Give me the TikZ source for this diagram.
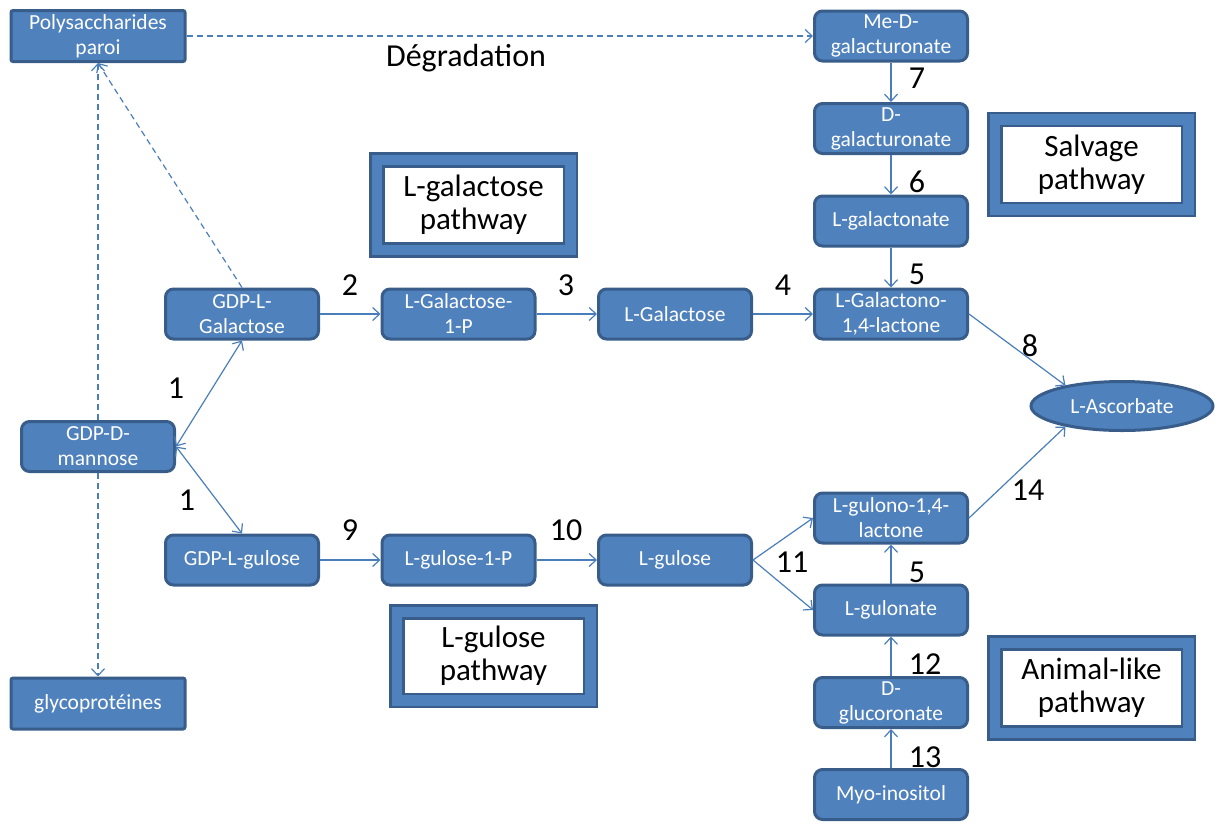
\documentclass[tikz,border=0pt]{standalone}
\usepackage{fontspec}
\setmainfont{Carlito}
\usetikzlibrary{arrows.meta,shapes.geometric}
\definecolor{boxfill}{HTML}{4F81BD}
\definecolor{boxedge}{HTML}{385D8A}
\definecolor{flowcol}{HTML}{4A7EBB}

\begin{document}
\begin{tikzpicture}[x=1pt,y=-1pt,
    >={Straight Barb[length=7pt,width=13pt]},
    metab/.style={draw=boxedge,fill=boxfill,line width=3pt,rounded corners=8pt,text=white,
        minimum width=153pt,minimum height=50pt,inner sep=0.5pt,align=center,
        font=\fontsize{21.5}{25}\selectfont},
    wall/.style={metab,rounded corners=2pt,minimum width=174pt,minimum height=51pt},
    pathbox/.style={draw=boxedge,line width=2.5pt,double=boxfill,double distance=10.5pt,
        fill=white,inner sep=0pt,align=center,minimum width=193.5pt,minimum height=90pt,
        font=\fontsize{31}{33}\selectfont},
    stepnum/.style={inner sep=0pt,font=\fontsize{32}{36}\selectfont},
    flow/.style={->,flowcol,line width=1.2pt},
    wflow/.style={flow,dash pattern=on 6pt off 4pt}]
  \useasboundingbox (0,0) rectangle (1215,823);

  % cell wall side
  \node[wall] (poly) at (98,36) {Polysaccharides\\paroi};
  \node[wall] (glyco) at (98,703.5) {glycoprotéines};
  \node[metab] (mannose) at (98,446.5) {GDP-D-\\mannose};

  % L-galactose route
  \node[metab] (galgdp) at (242,314) {GDP-L-\\Galactose};
  \node[metab] (galonep) at (458.5,314) {L-Galactose-\\1-P};
  \node[metab] (galact) at (675,314) {L-Galactose};
  \node[metab] (galacto) at (891,314) {L-Galactono-\\1,4-lactone};

  % salvage route
  \node[metab] (medgal) at (891,36) {Me-D-\\galacturonate};
  \node[metab] (dgal) at (891,128.5) {D-\\galacturonate};
  \node[metab] (lgalon) at (891,221) {L-galactonate};

  \node[ellipse,draw=boxedge,fill=boxfill,line width=3pt,text=white,inner sep=0pt,
        minimum width=182pt,minimum height=49pt,font=\fontsize{21.5}{25}\selectfont]
        (asc) at (1122,406) {L-Ascorbate};

  % L-gulose and animal-like routes
  \node[metab] (gulgdp) at (242,560) {GDP-L-gulose};
  \node[metab] (gulonep) at (458.5,560) {L-gulose-1-P};
  \node[metab] (gulose) at (675,560) {L-gulose};
  \node[metab] (gulono) at (891,518) {L-gulono-1,4-\\lactone};
  \node[metab] (gulonate) at (891,610) {L-gulonate};
  \node[metab] (glucor) at (891,702.5) {D-\\glucoronate};
  \node[metab] (myo) at (891,794.5) {Myo-inositol};

  \node[pathbox] (galpath) at (473.5,205) {L-galactose\\pathway};
  \node[pathbox] (salvpath) at (1091.5,164.5) {Salvage\\pathway};
  \node[pathbox,minimum height=88.5pt] (gulpath) at (493.5,656) {L-gulose\\pathway};
  \node[pathbox] (animpath) at (1091.5,688) {Animal-like\\pathway};

  \foreach \a/\b in {galgdp/galonep,galonep/galact,galact/galacto,medgal/dgal,dgal/lgalon,
                     lgalon/galacto,gulgdp/gulonep,gulonep/gulose,gulonate/gulono,glucor/gulonate,
                     myo/glucor,galacto.east/asc.160,gulono.east/asc.200,
                     gulose.east/gulono.west,gulose.east/gulonate.west}{
      \draw[flow] (\a) -- (\b); }
  \draw[flow,<->] (mannose.east) -- (galgdp.south);
  \draw[flow,<->] (mannose.east) -- (gulgdp.north);

  % degradation towards the wall
  \draw[wflow] (poly) -- (medgal);
  \node[stepnum] (degr) at (466,58) {Dégradation};
  \draw[wflow] (mannose) -- (poly);
  \draw[wflow] (mannose) -- (glyco);
  \draw[wflow] (galgdp.north) -- (poly.south);

  \foreach \t/\x/\y [count=\i] in {1/176/388,1/187/500,2/350/285,3/566/285,4/783/285,
                                    7/917/78,6/917/182,5/917/274,8/1030/346,14/1028/490,
                                    9/350/530,10/566/530,11/792/562,5/917/572,12/925/664,13/925/757}{
      \node[stepnum] (num\i) at (\x,\y) {\t}; }
\end{tikzpicture}
\end{document}
